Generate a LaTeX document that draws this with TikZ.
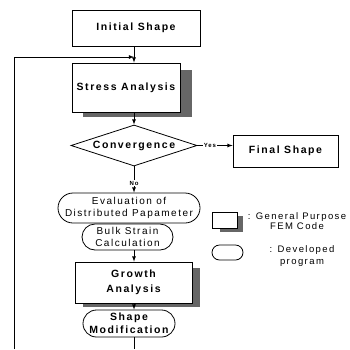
\documentclass[tikz,border=0pt]{standalone}
\usepackage{fontspec}
\setmainfont{Liberation Sans}[LetterSpace=15]
\usetikzlibrary{shapes.geometric, shapes.misc}

\begin{document}
\begin{tikzpicture}[x=1pt, y=-1pt, >=latex,
		box/.style={draw, thick, fill=white, inner sep=0pt, align=center, font=\fontsize{10.5}{15}\selectfont\bfseries},
		prog/.style={draw, thick, rounded rectangle, fill=white, inner sep=0pt, align=center, font=\fontsize{10}{12}\selectfont},
		dropfill/.style={fill=black!60},
		tag/.style={font=\fontsize{6}{7}\selectfont\bfseries, inner sep=1pt}]
		\useasboundingbox (0,0) rectangle (350,349);
		\coordinate (O) at (134,0);

		% shadows
		\fill[dropfill] (83,70) rectangle (192,117);
		\fill[dropfill] (83,268) rectangle (200,307);
		\fill[dropfill] (220,216) rectangle (243,232);

		\node[box, minimum width=128pt, minimum height=36pt] (a) at (136,28) {Initial Shape};
		\node[box, minimum width=108pt, minimum height=49pt] (b) at (126,87.5) {Stress Analysis};
		\node[box, diamond, aspect=3, minimum width=126pt, minimum height=41pt] (c) at (134,145.5) {Convergence};
		\node[box, minimum width=105pt, minimum height=32pt] (d) at (285.5,151) {Final Shape};
		\node[tag] (yes) at (210,145.5) {Yes};
		\node[tag] (no) at (134,183) {No};

		\node[prog, minimum width=142pt, minimum height=30pt] (e) at (129,208) {Evaluation of\\Distributed Papameter};
		\node[prog, minimum width=91pt, minimum height=26pt] (f) at (127.5,237) {Bulk Strain\\Calculation};
		\node[box, minimum width=117pt, minimum height=41pt] (g) at (133.5,282.5) {Growth\\Analysis};
		\node[prog, font=\fontsize{10.5}{13}\selectfont\bfseries, minimum width=92pt, minimum height=27pt] (h) at (129,323.5) {Shape\\Modification};

		% legend
		\node[draw, thick, fill=white, minimum width=25pt, minimum height=16pt] (k) at (224.5,220) {};
		\node[prog, minimum width=31pt, minimum height=15pt] (l) at (227.5,252.5) {};
		\node[align=center, font=\fontsize{9.5}{10.5}\selectfont] (m) at (297,221) {: General Purpose\\FEM Code};
		\node[align=center, font=\fontsize{9.5}{12}\selectfont] (n) at (302,256) {: Developed\\program};

		\coordinate (P) at (14,57);
		\coordinate (Q) at (14,349);
		\coordinate (R) at (134,349);

		\draw[thick, ->] (a.south -| O) -- (b.north -| O);
		\draw[thick, ->] (Q) -- (P) -- (P -| O);
		\draw[thick, ->] (b.south -| O) -- (c.north);
		\draw[thick] (c.east) -- (yes);
		\draw[thick, ->] (yes) -- (c.east -| d.west);
		\draw[thick] (c.south) -- (no);
		\draw[thick, ->] (no) -- (e.north -| O);
		\draw[thick, ->] (f.south -| O) -- (g.north -| O);
		\draw[thick, ->] (g.south -| O) -- (h.north -| O);
		\draw[thick] (h.south -| O) -- (R);
	\end{tikzpicture}
\end{document}
